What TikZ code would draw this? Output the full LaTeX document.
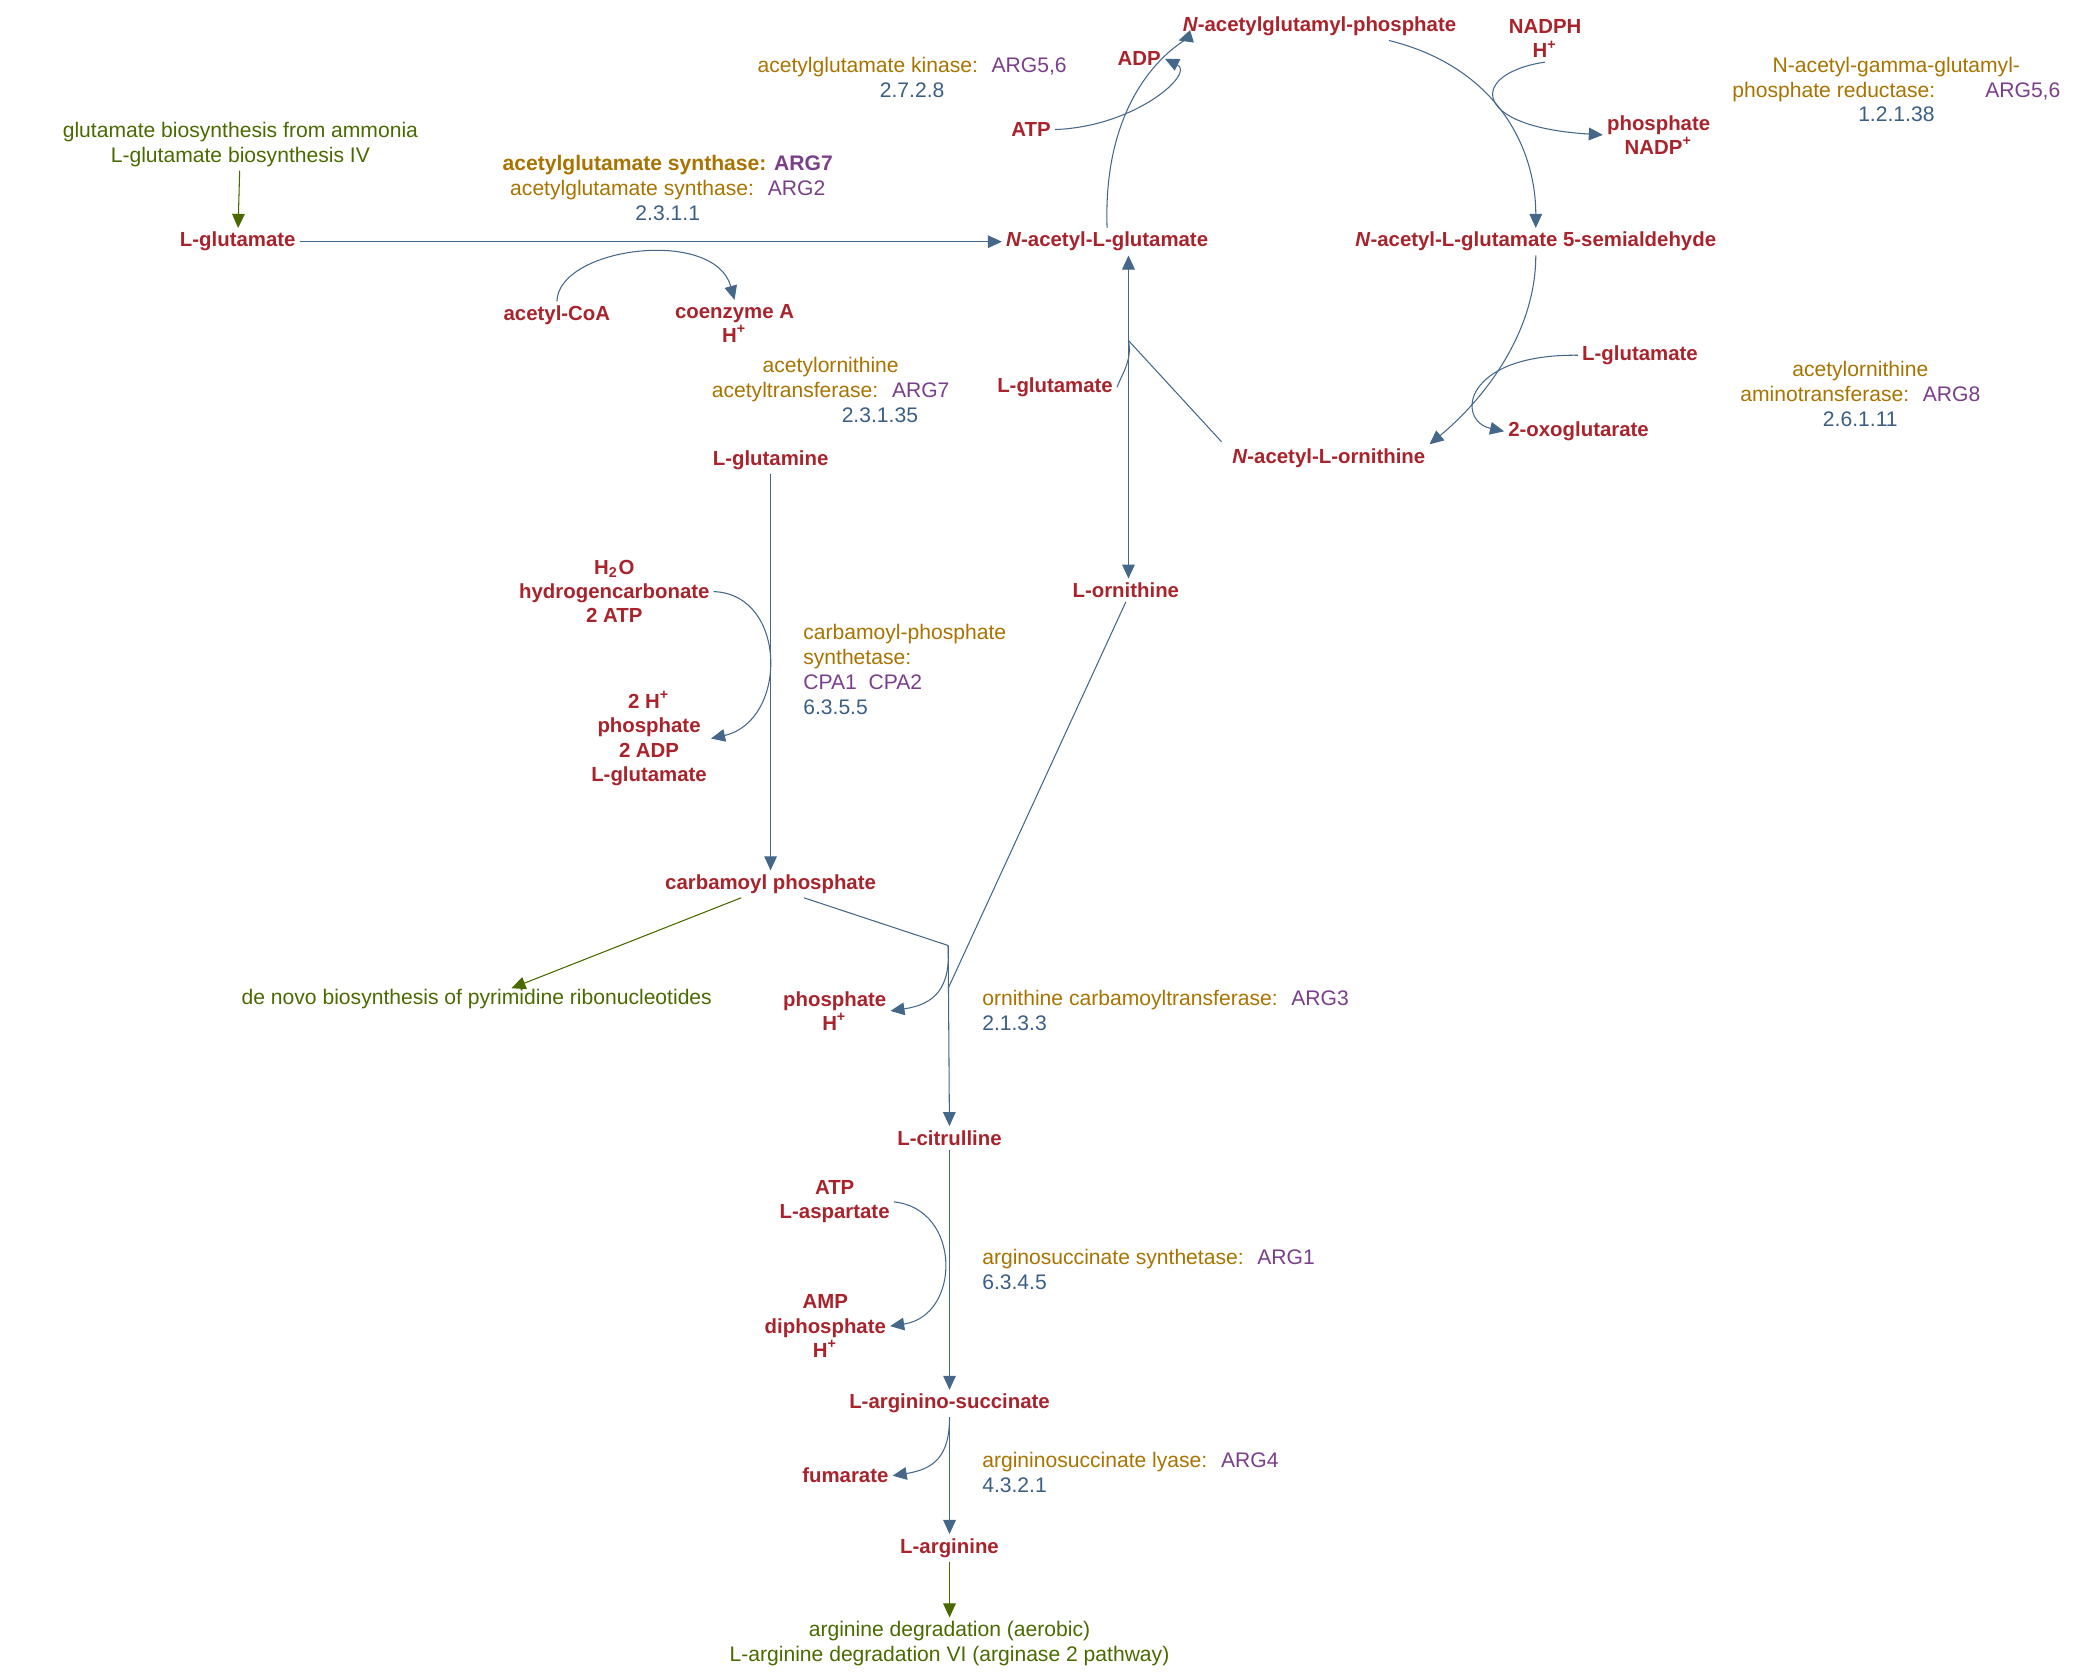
\documentclass[tikz,border=0pt]{standalone}
\usepackage{fontspec}
\setmainfont{Liberation Sans}
\usetikzlibrary{arrows.meta}
\definecolor{cpd}{HTML}{A8232B}
\definecolor{enz}{HTML}{A87300}
\definecolor{gene}{HTML}{7A3E8A}
\definecolor{ecn}{HTML}{3A5F85}
\definecolor{pwy}{HTML}{4A6A00}
\definecolor{rxn}{HTML}{44678A}
\tikzset{
  cpd/.style={text=cpd, font=\fontsize{5.8}{6.9}\selectfont\bfseries, align=center, inner sep=1pt},
  lbl/.style={font=\fontsize{6}{7.1}\selectfont, align=left, inner sep=0pt},
  pwy/.style={text=pwy, font=\fontsize{6}{7.1}\selectfont, align=center, inner sep=1pt},
  rx/.style={draw=rxn, line width=0.3pt, -{Triangle[length=4pt,width=3.6pt]}},
  rxl/.style={draw=rxn, line width=0.3pt},
  link/.style={draw=pwy, line width=0.3pt, -{Triangle[length=4pt,width=3.6pt]}, fill=pwy},
}
\begin{document}
\begin{tikzpicture}[x=0.013355cm, y=-0.013355cm]
\useasboundingbox (0,0) rectangle (1568,1255);
% Pathway links
\node[pwy] (glupwy) at (180,108) {glutamate biosynthesis from ammonia\\L-glutamate biosynthesis IV};
\node[pwy] (pyrpwy) at (357,748) {de novo biosynthesis of pyrimidine ribonucleotides};
\node[pwy] (argpwy) at (711,1231) {arginine degradation (aerobic)\\L-arginine degradation VI (arginase 2 pathway)};
% Main compounds
\node[cpd] (glu) at (178,181) {L-glutamate};
\node[cpd] (nag) at (829,181) {\textit{N}-acetyl-L-glutamate};
\node[cpd] (nagp) at (988,20) {\textit{N}-acetylglutamyl-phosphate};
\node[cpd] (nags) at (1150,181) {\textit{N}-acetyl-L-glutamate 5-semialdehyde};
\node[cpd] (nao) at (995,343) {\textit{N}-acetyl-L-ornithine};
\node[cpd] (orn) at (843,442) {L-ornithine};
\node[cpd] (gln) at (577,345) {L-glutamine};
\node[cpd] (cp) at (577,662) {carbamoyl phosphate};
\node[cpd] (cit) at (711,852) {L-citrulline};
\node[cpd] (as) at (711,1051) {L-arginino-succinate};
\node[cpd] (arg) at (711,1159) {L-arginine};
% Side compounds
\node[cpd] (acoa) at (417,236) {acetyl-CoA};
\node[cpd] (coa) at (550,242) {coenzyme A\\H\textsuperscript{+}};
\node[cpd] (atp1) at (772,97) {ATP};
\node[cpd] (adp1) at (853,44) {ADP};
\node[cpd] (nadph) at (1157,29) {NADPH\\H\textsuperscript{+}};
\node[cpd] (nadp) at (1242,101) {phosphate\\NADP\textsuperscript{+}};
\node[cpd] (glu2) at (1228,266) {L-glutamate};
\node[cpd] (oxo) at (1182,323) {2-oxoglutarate};
\node[cpd] (glu3) at (790,290) {L-glutamate};
\node[cpd] (cpin) at (460,443) {H\textsubscript{2}O\\hydrogencarbonate\\2 ATP};
\node[cpd] (cpout) at (486,553) {2 H\textsuperscript{+}\\phosphate\\2 ADP\\L-glutamate};
\node[cpd] (pi) at (625,757) {phosphate\\H\textsuperscript{+}};
\node[cpd] (asin) at (625,900) {ATP\\L-aspartate};
\node[cpd] (asout) at (618,993) {AMP\\diphosphate\\H\textsuperscript{+}};
\node[cpd] (fum) at (633,1105) {fumarate};
% Enzyme labels
\node[lbl, align=center] (e1) at (500,141) {\textcolor{enz}{\bfseries acetylglutamate synthase:} \textcolor{gene}{\bfseries ARG7}\\\textcolor{enz}{acetylglutamate synthase:} \ \textcolor{gene}{ARG2}\\\textcolor{ecn}{2.3.1.1}\hspace{50pt}};
\node[lbl, align=center] (e2) at (683,58) {\textcolor{enz}{acetylglutamate kinase:} \ \textcolor{gene}{ARG5,6}\\\textcolor{ecn}{2.7.2.8}};
\node[lbl, align=center] (e3) at (1420,67) {\textcolor{enz}{N-acetyl-gamma-glutamyl-}\hspace{30pt}\\\textcolor{enz}{phosphate reductase:} \hspace{12pt}\textcolor{gene}{ARG5,6}\\\textcolor{ecn}{1.2.1.38}};
\node[lbl, align=center] (e4) at (1393,295) {\textcolor{enz}{acetylornithine}\hspace{30pt}\\\textcolor{enz}{aminotransferase:} \ \textcolor{gene}{ARG8}\\\textcolor{ecn}{2.6.1.11}};
\node[lbl, align=center] (e5) at (622,292) {\textcolor{enz}{acetylornithine}\hspace{30pt}\\\textcolor{enz}{acetyltransferase:} \ \textcolor{gene}{ARG7}\\\hspace{28pt}\textcolor{ecn}{2.3.1.35}};
\node[lbl, anchor=north west] (e6) at (601,467) {\textcolor{enz}{carbamoyl-phosphate}\\\textcolor{enz}{synthetase:}\\\textcolor{gene}{CPA1 \ CPA2}\\\textcolor{ecn}{6.3.5.5}};
\node[lbl, anchor=north west] (e7) at (735,741) {\textcolor{enz}{ornithine carbamoyltransferase:} \ \textcolor{gene}{ARG3}\\\textcolor{ecn}{2.1.3.3}};
\node[lbl, anchor=north west] (e8) at (735,935) {\textcolor{enz}{arginosuccinate synthetase:} \ \textcolor{gene}{ARG1}\\\textcolor{ecn}{6.3.4.5}};
\node[lbl, anchor=north west] (e9) at (735,1087) {\textcolor{enz}{argininosuccinate lyase:} \ \textcolor{gene}{ARG4}\\\textcolor{ecn}{4.3.2.1}};
% Pathway link arrows
\draw[link] (glupwy) -- (glu);
\draw[link] (cp.south) ++(-22,0) coordinate (cpl) -- (383,740) coordinate (pyrend);
\draw[link] (arg) -- (argpwy);
% Reactions
\draw[rx] (glu) -- (nag);
\draw[rx] (acoa.north) .. controls (418,185) and (535,170) .. (coa.north);
\draw[rx] (nag.north) .. controls (825,60) and (890,28) .. (nagp.south west);
\draw[rx] (atp1.east) .. controls (850,95) and (895,55) .. (adp1.east);
\draw[rx] (nagp.south) ++(52,0) .. controls (1120,50) and (1150,110) .. (nags.north);
\draw[rx] (nadph.south) .. controls (1100,55) and (1100,95) .. (nadp.west);
\draw[rx] (nags.south) .. controls (1150,250) and (1110,300) .. (nao.north east);
\draw[rx] (glu2.west) .. controls (1095,265) and (1090,315) .. (oxo.west);
\coordinate (tr) at (845,255);
\draw[rxl] (nao.north west) ++(-5,-2) -- (tr);
\draw[rx] (tr) -- (nag.south -| tr);
\draw[rx] (tr) -- (orn.north -| tr);
\draw[rxl] (glu3.east) .. controls (840,280) and (848,270) .. (tr);
\draw[rx] (gln) -- (cp);
\draw[rx] (cpin.east) .. controls (590,445) and (590,540) .. (cpout.east);
\coordinate (oct) at (710,708);
\draw[rxl] (cp.south) ++(25,0) -- (oct);
\draw[rxl] (orn.south) -- (710,740);
\draw[rx] (oct) -- (cit);
\draw[rx] (oct) .. controls (712,740) and (700,752) .. (pi.east);
\draw[rx] (cit) -- (as);
\draw[rx] (asin.east) .. controls (720,905) and (720,985) .. (asout.east);
\draw[rx] (as) -- (arg);
\draw[rx] (as.south) .. controls (711,1090) and (700,1100) .. (fum.east);
\end{tikzpicture}
\end{document}
